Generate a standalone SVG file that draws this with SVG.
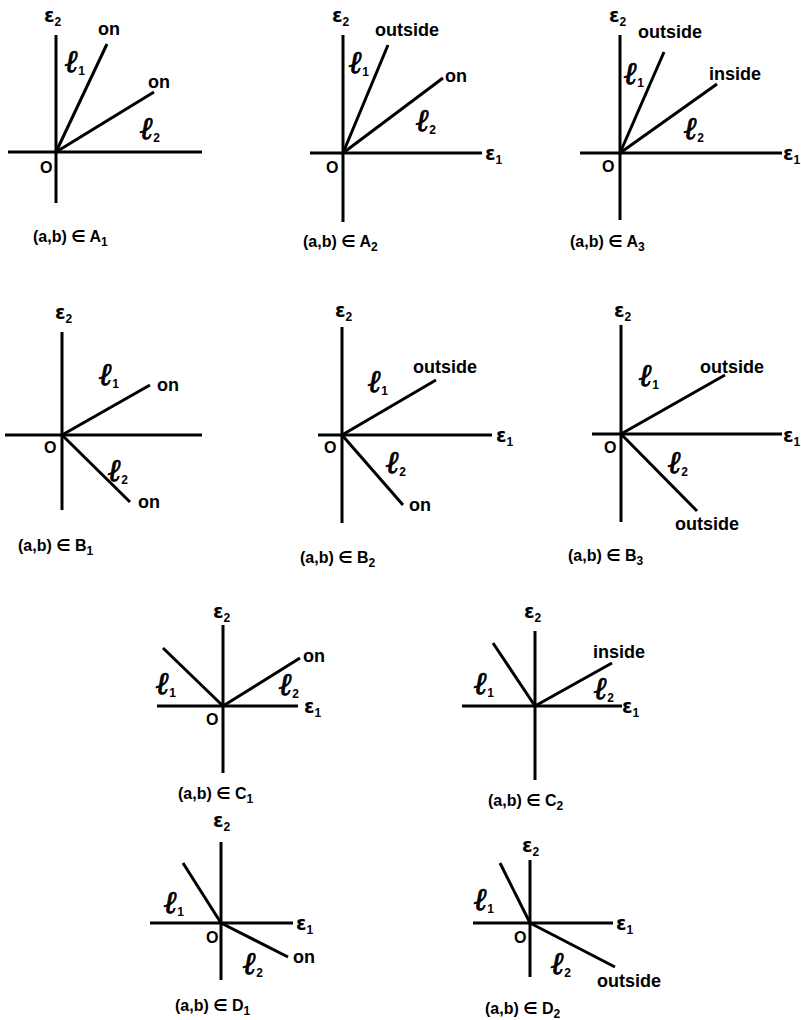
<svg xmlns="http://www.w3.org/2000/svg" width="801" height="1020" viewBox="0 0 801 1020">
<style>
.ax{stroke:#000;stroke-width:3;fill:none;stroke-linecap:butt}
.ray{stroke:#000;stroke-width:3;fill:none;stroke-linecap:butt}
.w{font-family:"Liberation Sans",Arial,sans-serif;font-weight:bold;font-size:18px;fill:#000}
.o{font-family:"Liberation Sans",Arial,sans-serif;font-weight:bold;font-size:16px;fill:#000}
.cap{font-family:"Liberation Sans","DejaVu Sans",sans-serif;font-weight:bold;font-size:16px;fill:#000}
.eps{font-family:"DejaVu Sans",sans-serif;font-weight:bold;font-size:19px;fill:#000}
.ell{font-family:"DejaVu Serif",serif;font-style:italic;font-weight:bold;font-size:31px;fill:#000;stroke:#000;stroke-width:0.9}
.sub{font-family:"Liberation Sans",Arial,sans-serif;font-weight:bold;font-size:12px;font-style:normal;stroke:none}
</style>
<rect width="801" height="1020" fill="#fff"/>

<g id="A1">
<line class="ax" x1="56" y1="35" x2="56" y2="203"/>
<line class="ax" x1="8" y1="152" x2="202" y2="152"/>
<g class="connectors"><line class="ray" x1="56" y1="152" x2="107" y2="44"/><line class="ray" x1="56" y1="152" x2="154" y2="92"/></g>
<text class="eps" x="44" y="22">ε<tspan class="sub" dy="4">2</tspan></text>
<text class="w" x="98" y="35">on</text>
<text class="w" x="148" y="88">on</text>
<text class="ell" x="65" y="72">ℓ<tspan class="sub" dy="3">1</tspan></text>
<text class="ell" x="140" y="139">ℓ<tspan class="sub" dy="3">2</tspan></text>
<text class="o" x="40" y="173">O</text>
<text class="cap" x="33" y="242">(a,b) ∈ A<tspan class="sub" dy="4">1</tspan></text>
</g>

<g id="A2">
<line class="ax" x1="343" y1="35" x2="343" y2="222"/>
<line class="ax" x1="310" y1="153" x2="482" y2="153"/>
<g class="connectors"><line class="ray" x1="343" y1="153" x2="388" y2="45"/><line class="ray" x1="343" y1="153" x2="443" y2="78"/></g>
<text class="eps" x="332" y="22">ε<tspan class="sub" dy="4">2</tspan></text>
<text class="eps" x="485" y="160">ε<tspan class="sub" dy="4">1</tspan></text>
<text class="w" x="375" y="36">outside</text>
<text class="w" x="445" y="82">on</text>
<text class="ell" x="349" y="73">ℓ<tspan class="sub" dy="3">1</tspan></text>
<text class="ell" x="416" y="131">ℓ<tspan class="sub" dy="3">2</tspan></text>
<text class="o" x="326" y="173">O</text>
<text class="cap" x="303" y="247">(a,b) ∈ A<tspan class="sub" dy="4">2</tspan></text>
</g>

<g id="A3">
<line class="ax" x1="620" y1="35" x2="620" y2="220"/>
<line class="ax" x1="580" y1="153" x2="782" y2="153"/>
<g class="connectors"><line class="ray" x1="620" y1="153" x2="664" y2="52"/><line class="ray" x1="620" y1="153" x2="717" y2="84"/></g>
<text class="eps" x="609" y="22">ε<tspan class="sub" dy="4">2</tspan></text>
<text class="eps" x="783" y="160">ε<tspan class="sub" dy="4">1</tspan></text>
<text class="w" x="638" y="38">outside</text>
<text class="w" x="709" y="80">inside</text>
<text class="ell" x="624" y="84">ℓ<tspan class="sub" dy="3">1</tspan></text>
<text class="ell" x="684" y="139">ℓ<tspan class="sub" dy="3">2</tspan></text>
<text class="o" x="602" y="172">O</text>
<text class="cap" x="570" y="247">(a,b) ∈ A<tspan class="sub" dy="4">3</tspan></text>
</g>

<g id="B1">
<line class="ax" x1="62" y1="332" x2="62" y2="510"/>
<line class="ax" x1="5" y1="435" x2="202" y2="435"/>
<g class="connectors"><line class="ray" x1="62" y1="435" x2="150" y2="385"/><line class="ray" x1="62" y1="435" x2="130" y2="502"/></g>
<text class="eps" x="55" y="319">ε<tspan class="sub" dy="4">2</tspan></text>
<text class="w" x="157" y="391">on</text>
<text class="w" x="138" y="508">on</text>
<text class="ell" x="99" y="385">ℓ<tspan class="sub" dy="3">1</tspan></text>
<text class="ell" x="108" y="481">ℓ<tspan class="sub" dy="3">2</tspan></text>
<text class="o" x="44" y="453">O</text>
<text class="cap" x="18" y="551">(a,b) ∈ B<tspan class="sub" dy="4">1</tspan></text>
</g>

<g id="B2">
<line class="ax" x1="342" y1="327" x2="342" y2="523"/>
<line class="ax" x1="318" y1="435" x2="492" y2="435"/>
<g class="connectors"><line class="ray" x1="342" y1="435" x2="436" y2="380"/><line class="ray" x1="342" y1="435" x2="403" y2="505"/></g>
<text class="eps" x="335" y="317">ε<tspan class="sub" dy="4">2</tspan></text>
<text class="eps" x="496" y="442">ε<tspan class="sub" dy="4">1</tspan></text>
<text class="w" x="413" y="373">outside</text>
<text class="w" x="409" y="511">on</text>
<text class="ell" x="368" y="392">ℓ<tspan class="sub" dy="3">1</tspan></text>
<text class="ell" x="386" y="473">ℓ<tspan class="sub" dy="3">2</tspan></text>
<text class="o" x="324" y="453">O</text>
<text class="cap" x="300" y="563">(a,b) ∈ B<tspan class="sub" dy="4">2</tspan></text>
</g>

<g id="B3">
<line class="ax" x1="621" y1="325" x2="621" y2="522"/>
<line class="ax" x1="592" y1="434" x2="782" y2="434"/>
<g class="connectors"><line class="ray" x1="621" y1="434" x2="725" y2="375"/><line class="ray" x1="621" y1="434" x2="697" y2="511"/></g>
<text class="eps" x="614" y="317">ε<tspan class="sub" dy="4">2</tspan></text>
<text class="eps" x="783" y="442">ε<tspan class="sub" dy="4">1</tspan></text>
<text class="w" x="700" y="373">outside</text>
<text class="w" x="675" y="530">outside</text>
<text class="ell" x="639" y="386">ℓ<tspan class="sub" dy="3">1</tspan></text>
<text class="ell" x="668" y="473">ℓ<tspan class="sub" dy="3">2</tspan></text>
<text class="o" x="604" y="453">O</text>
<text class="cap" x="568" y="561">(a,b) ∈ B<tspan class="sub" dy="4">3</tspan></text>
</g>

<g id="C1">
<line class="ax" x1="223" y1="625" x2="223" y2="773"/>
<line class="ax" x1="157" y1="706" x2="298" y2="706"/>
<g class="connectors"><line class="ray" x1="223" y1="706" x2="163" y2="648"/><line class="ray" x1="223" y1="706" x2="300" y2="658"/></g>
<text class="eps" x="213" y="618">ε<tspan class="sub" dy="4">2</tspan></text>
<text class="eps" x="304" y="713">ε<tspan class="sub" dy="4">1</tspan></text>
<text class="w" x="303" y="662">on</text>
<text class="ell" x="156" y="694">ℓ<tspan class="sub" dy="3">1</tspan></text>
<text class="ell" x="279" y="695">ℓ<tspan class="sub" dy="3">2</tspan></text>
<text class="o" x="206" y="725">O</text>
<text class="cap" x="178" y="799">(a,b) ∈ C<tspan class="sub" dy="4">1</tspan></text>
</g>

<g id="C2">
<line class="ax" x1="535" y1="631" x2="535" y2="780"/>
<line class="ax" x1="462" y1="706" x2="622" y2="706"/>
<g class="connectors"><line class="ray" x1="535" y1="706" x2="493" y2="643"/><line class="ray" x1="535" y1="706" x2="612" y2="663"/></g>
<text class="eps" x="524" y="618">ε<tspan class="sub" dy="4">2</tspan></text>
<text class="eps" x="622" y="713">ε<tspan class="sub" dy="4">1</tspan></text>
<text class="w" x="593" y="658">inside</text>
<text class="ell" x="474" y="694">ℓ<tspan class="sub" dy="3">1</tspan></text>
<text class="ell" x="594" y="699">ℓ<tspan class="sub" dy="3">2</tspan></text>
<text class="cap" x="488" y="806">(a,b) ∈ C<tspan class="sub" dy="4">2</tspan></text>
</g>

<g id="D1">
<line class="ax" x1="221" y1="842" x2="221" y2="980"/>
<line class="ax" x1="150" y1="923" x2="293" y2="923"/>
<g class="connectors"><line class="ray" x1="221" y1="923" x2="183" y2="863"/><line class="ray" x1="221" y1="923" x2="288" y2="957"/></g>
<text class="eps" x="213" y="827">ε<tspan class="sub" dy="4">2</tspan></text>
<text class="eps" x="296" y="930">ε<tspan class="sub" dy="4">1</tspan></text>
<text class="w" x="293" y="963">on</text>
<text class="ell" x="164" y="913">ℓ<tspan class="sub" dy="3">1</tspan></text>
<text class="ell" x="243" y="974">ℓ<tspan class="sub" dy="3">2</tspan></text>
<text class="o" x="206" y="943">O</text>
<text class="cap" x="175" y="1011">(a,b) ∈ D<tspan class="sub" dy="4">1</tspan></text>
</g>

<g id="D2">
<line class="ax" x1="530" y1="860" x2="530" y2="977"/>
<line class="ax" x1="473" y1="923" x2="613" y2="923"/>
<g class="connectors"><line class="ray" x1="530" y1="923" x2="500" y2="863"/><line class="ray" x1="530" y1="923" x2="615" y2="967"/></g>
<text class="eps" x="522" y="852">ε<tspan class="sub" dy="4">2</tspan></text>
<text class="eps" x="616" y="930">ε<tspan class="sub" dy="4">1</tspan></text>
<text class="w" x="597" y="987">outside</text>
<text class="ell" x="474" y="910">ℓ<tspan class="sub" dy="3">1</tspan></text>
<text class="ell" x="551" y="974">ℓ<tspan class="sub" dy="3">2</tspan></text>
<text class="o" x="514" y="943">O</text>
<text class="cap" x="485" y="1014">(a,b) ∈ D<tspan class="sub" dy="4">2</tspan></text>
</g>
</svg>
